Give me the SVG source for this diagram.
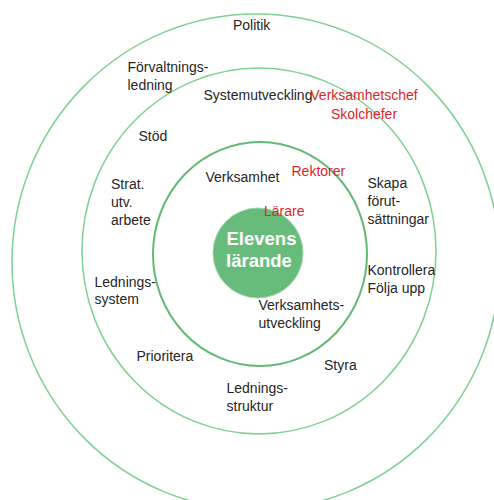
<svg xmlns="http://www.w3.org/2000/svg" width="494" height="500" viewBox="0 0 494 500">
<style>
.ring{fill:none;stroke:#7fd093;stroke-width:1.5}
.ring3{fill:none;stroke:#62b874;stroke-width:2}
text{font-family:"Liberation Sans",Arial,sans-serif;font-size:14px;fill:#262626}
.red{fill:#d8282c}
.core{font-size:18.5px;font-weight:bold;fill:#ffffff}
</style>
<rect width="494" height="500" fill="#ffffff"/>
<g id="ring-outer"><ellipse class="ring" cx="256" cy="262" rx="244" ry="248"/></g>
<g id="ring-middle"><ellipse class="ring" cx="259" cy="251" rx="177" ry="183"/></g>
<g id="ring-inner"><ellipse class="ring3" cx="260" cy="254" rx="107" ry="112"/></g>
<g id="core">
<circle cx="258" cy="253" r="45" fill="#68bc7b" stroke="#9fd8ab" stroke-width="1"/>
<text class="core" x="226.5" y="244.5">Elevens</text>
<text class="core" x="226" y="266.5">lärande</text>
</g>
<g id="connectors"></g>
<g id="labels">
<text x="233" y="30">Politik</text>
<text x="127.5" y="71.5">Förvaltnings-</text>
<text x="127.5" y="89.5">ledning</text>
<text x="203.5" y="100">Systemutveckling</text>
<text class="red" x="364" y="100" text-anchor="middle">Verksamhetschef</text>
<text class="red" x="364" y="118.5" text-anchor="middle">Skolchefer</text>
<text x="138.5" y="141">Stöd</text>
<text x="205.5" y="182">Verksamhet</text>
<text class="red" x="291.5" y="176">Rektorer</text>
<text x="111" y="188.5">Strat.</text>
<text x="111" y="206.5">utv.</text>
<text x="111" y="225">arbete</text>
<text x="367.5" y="187.5">Skapa</text>
<text x="367.5" y="205.5">förut-</text>
<text x="367.5" y="223.5">sättningar</text>
<text class="red" x="264" y="216">Lärare</text>
<text x="94.5" y="286.5">Lednings-</text>
<text x="94.5" y="303.5">system</text>
<text x="367.5" y="275">Kontrollera</text>
<text x="367.5" y="292.5">Följa upp</text>
<text x="258.5" y="310">Verksamhets-</text>
<text x="258.5" y="327.5">utveckling</text>
<text x="136.5" y="361">Prioritera</text>
<text x="324" y="369.5">Styra</text>
<text x="226.5" y="392.5">Lednings-</text>
<text x="226.5" y="410.5">struktur</text>
</g>
</svg>
